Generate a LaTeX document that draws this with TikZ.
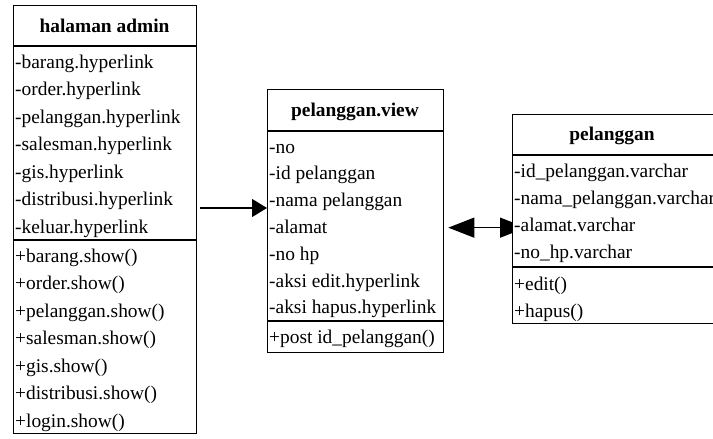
\documentclass[tikz,border=0pt]{standalone}
\usepackage{fontspec}
\setmainfont{Liberation Serif}
\usetikzlibrary{arrows.meta}
\pgfdeclarelayer{background}
\pgfsetlayers{background,main}
\begin{document}
\begin{tikzpicture}[x=1pt,y=-1pt,
  classbox/.style={draw=black, line width=1.3pt, fill=white, rectangle, inner sep=0pt, anchor=north west},
  divider/.style={line width=1.8pt},
  title/.style={font=\fontsize{19.4}{23}\selectfont\bfseries, inner sep=0pt, anchor=base},
  member/.style={font=\fontsize{19.4}{23}\selectfont, inner sep=0pt, anchor=base west},
  assoc/.style={line width=1.3pt},
]
\useasboundingbox (0,0) rectangle (713,439);
\clip (0,0) rectangle (713,439);

% class: halaman admin
\node[classbox, minimum width=183pt, minimum height=428pt] (admin) at (13,5) {};
\draw[divider] (13,46) -- (196,46);
\draw[divider] (13,240) -- (196,240);
\node[title] (admin-t) at (104.5,32) {halaman admin};
\foreach \t [count=\i] in {-barang.hyperlink,-order.hyperlink,-pelanggan.hyperlink,-salesman.hyperlink,-gis.hyperlink,-distribusi.hyperlink,-keluar.hyperlink}
  \node[member] (admin-a\i) at (15,{68+27.5*(\i-1)}) {\t};
\foreach \t [count=\i] in {+barang.show(),+order.show(),+pelanggan.show(),+salesman.show(),+gis.show(),+distribusi.show(),+login.show()}
  \node[member] (admin-m\i) at (15,{262+27.5*(\i-1)}) {\t};

% class: pelanggan.view
\node[classbox, minimum width=176pt, minimum height=263pt] (view) at (267,89) {};
\draw[divider] (267,131) -- (443,131);
\draw[divider] (267,321) -- (443,321);
\node[title] (view-t) at (355,116) {pelanggan.view};
\foreach \t [count=\i] in {-no,-id pelanggan,-nama pelanggan,-alamat,-no hp,-aksi edit.hyperlink,-aksi hapus.hyperlink}
  \node[member] (view-a\i) at (269,{153+26.8*(\i-1)}) {\t};
\node[member] (view-m1) at (269,343) {+post id\_pelanggan()};

% class: pelanggan
\node[classbox, minimum width=210pt, minimum height=209pt] (pel) at (512,114) {};
\draw[divider] (512,155) -- (722,155);
\draw[divider] (512,267) -- (722,267);
\node[title] (pel-t) at (612,140) {pelanggan};
\foreach \t [count=\i] in {-id\_pelanggan.varchar,-nama\_pelanggan.varchar,-alamat.varchar,-no\_hp.varchar}
  \node[member] (pel-a\i) at (514,{177+27*(\i-1)}) {\t};
\node[member] (pel-m1) at (514,290) {+edit()};
\node[member] (pel-m2) at (514,317) {+hapus()};

% associations
\coordinate (src) at (200,208);
\path ([yshift=-6.5pt]view.east) coordinate (lnk);
\begin{pgfonlayer}{background}
  \draw[assoc, -{Triangle[length=15pt,width=18pt]}] (src) -- (src -| view.west);
  \draw[assoc, {Triangle[length=26pt,width=20pt]}-{Triangle[length=26pt,width=20pt]},
        shorten <=4pt, shorten >=-14pt] (lnk) -- (lnk -| pel.west);
\end{pgfonlayer}
\end{tikzpicture}
\end{document}
